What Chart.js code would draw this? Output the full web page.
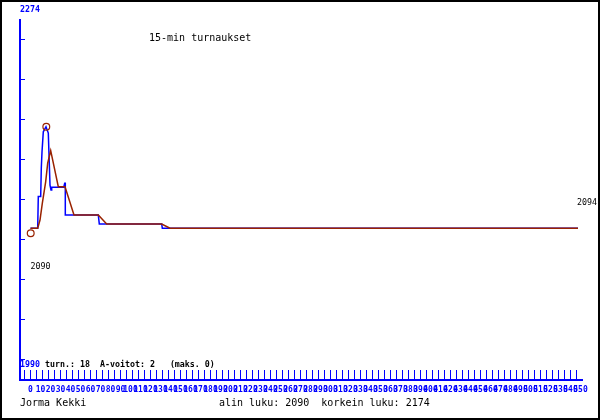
<!DOCTYPE html>
<html>
<head>
<meta charset="utf-8">
<script src="https://cdn.jsdelivr.net/npm/chart.js@4.4.1/dist/chart.umd.min.js"></script>
<style>
  html, body { margin: 0; padding: 0; background: #fff; }
  #wrap { position: relative; width: 600px; height: 420px; border: 2px solid #000; box-sizing: border-box; overflow: hidden; }
  #chart { position: absolute; left: -2px; top: -2px; }
</style>
</head>
<body>
<div id="wrap"><canvas id="chart" width="600" height="420"></canvas></div>
<script>
// rating per tournament (blue = result, brown = rating)
const blueX = [0, 7.2, 7.8, 10.2, 10.8, 11.5, 12.8, 15.5, 17.8, 19.5, 20.5, 21.2, 33.2, 34.2, 34.8, 34.8, 67.8, 68.8, 131.2, 131.8, 547.5];
const blueY = [2094, 2094, 2119, 2119, 2141.5, 2154, 2170, 2174, 2169, 2128, 2124, 2126.2, 2126.2, 2129.4, 2129.4, 2104.4, 2104.4, 2097.3, 2097.3, 2094, 2094];
const brownX = [0, 7.2, 9.5, 11.8, 15.2, 17.2, 20.2, 27.8, 34.5, 43.5, 67.8, 76.2, 131.2, 139.5, 547.5];
const brownY = [2094, 2094, 2100.4, 2113.6, 2130.7, 2145.2, 2155.1, 2126.7, 2126.7, 2104.4, 2104.4, 2097.3, 2097.3, 2094, 2094];
const extremeX = [0.2, 15.8];
const extremeY = [2090, 2174];

const yTop = 2274, yBottom = 1990;
const lowest = 2090, highest = 2174, lastValue = 2094;
const games = 18, aWins = 2, maxWins = 0;
const title = '15-min turnaukset';
const player = 'Jorma Kekki';

const BLUE = '#0000ff';
const BROWN = '#992200';
const MONO = '"DejaVu Sans Mono", "Liberation Mono", monospace';

const texts = {
  id: 'texts',
  afterDraw(chart) {
    const ctx = chart.ctx;
    const x = chart.scales.x, y = chart.scales.y;
    ctx.save();
    ctx.textAlign = 'left';
    ctx.textBaseline = 'alphabetic';
    ctx.fillStyle = BLUE;
    ctx.font = 'bold 8.3px ' + MONO;
    ctx.fillText(String(yTop), 20, y.getPixelForValue(yTop) + 12);
    ctx.fillText(String(yBottom), 20, y.getPixelForValue(yBottom) + 7);
    ctx.fillStyle = '#000';
    ctx.fillText(`turn.: ${games}  A-voitot: ${aWins}   (maks. ${maxWins})`, 45, y.getPixelForValue(yBottom) + 7);
    ctx.font = '8.3px ' + MONO;
    ctx.fillText(String(lowest), x.getPixelForValue(blueX[0]), y.getPixelForValue(lowest) + 36);
    ctx.fillText(String(lastValue), x.getPixelForValue(blueX[blueX.length - 1]) - 1, y.getPixelForValue(lastValue) - 23);
    ctx.font = '10px ' + MONO;
    ctx.fillText(title, 149, 41);
    ctx.fillText(player, 20, 406);
    ctx.fillText(`alin luku: ${lowest}  korkein luku: ${highest}`, 219, 406);
    ctx.restore();
  }
};

const pts = (xs, ys) => xs.map((v, i) => ({ x: v, y: ys[i] }));

new Chart(document.getElementById('chart'), {
  type: 'line',
  data: {
    datasets: [
      {
        data: pts(extremeX, extremeY),
        showLine: false,
        pointRadius: 3.4,
        pointBorderWidth: 1.2,
        pointBorderColor: BROWN,
        pointBackgroundColor: 'rgba(0,0,0,0)'
      },
      {
        data: pts(brownX, brownY),
        borderColor: BROWN,
        borderWidth: 1.5,
        pointRadius: 0,
        tension: 0
      },
      {
        data: pts(blueX, blueY),
        borderColor: BLUE,
        borderWidth: 1.5,
        pointRadius: 0,
        tension: 0
      }
    ]
  },
  plugins: [texts],
  options: {
    responsive: false,
    animation: false,
    layout: { padding: { top: 20, right: 18, left: 20, bottom: 0 } },
    plugins: { legend: { display: false }, tooltip: { enabled: false } },
    scales: {
      x: {
        type: 'linear',
        position: 'bottom',
        weight: 0,
        min: -10.5,
        max: 551.5,
        ticks: { display: false, stepSize: 6, includeBounds: false },
        grid: { drawOnChartArea: false, tickLength: -10, tickColor: BLUE, tickWidth: 1 },
        border: { color: BLUE, width: 2 },
        afterFit: s => { s.height = 0; }
      },
      xl: {
        type: 'linear',
        position: 'bottom',
        weight: 1,
        min: -10.5,
        max: 551.5,
        grid: { display: false, drawTicks: false },
        border: { display: false },
        ticks: {
          stepSize: 10,
          includeBounds: false,
          autoSkip: false,
          maxRotation: 0,
          minRotation: 0,
          padding: 5,
          color: BLUE,
          font: { family: MONO, size: 8, weight: 'bold' },
          callback: v => (v >= 0 ? String(v) : '')
        },
        afterFit: s => { s.height = 40; }
      },
      y: {
        type: 'linear',
        position: 'left',
        min: 1974.2,
        max: 2258.2,
        ticks: { display: false },
        grid: { drawOnChartArea: false, tickLength: -5, tickColor: BLUE, tickWidth: 1 },
        border: { color: BLUE, width: 2 },
        afterBuildTicks: s => {
          const step = (yTop - yBottom) / 9;
          s.ticks = [0, 1, 2, 3, 4, 5, 6, 7, 8].map(k => ({ value: yBottom + k * step }));
        },
        afterFit: s => { s.width = 0; }
      }
    }
  }
});
</script>
</body>
</html>
